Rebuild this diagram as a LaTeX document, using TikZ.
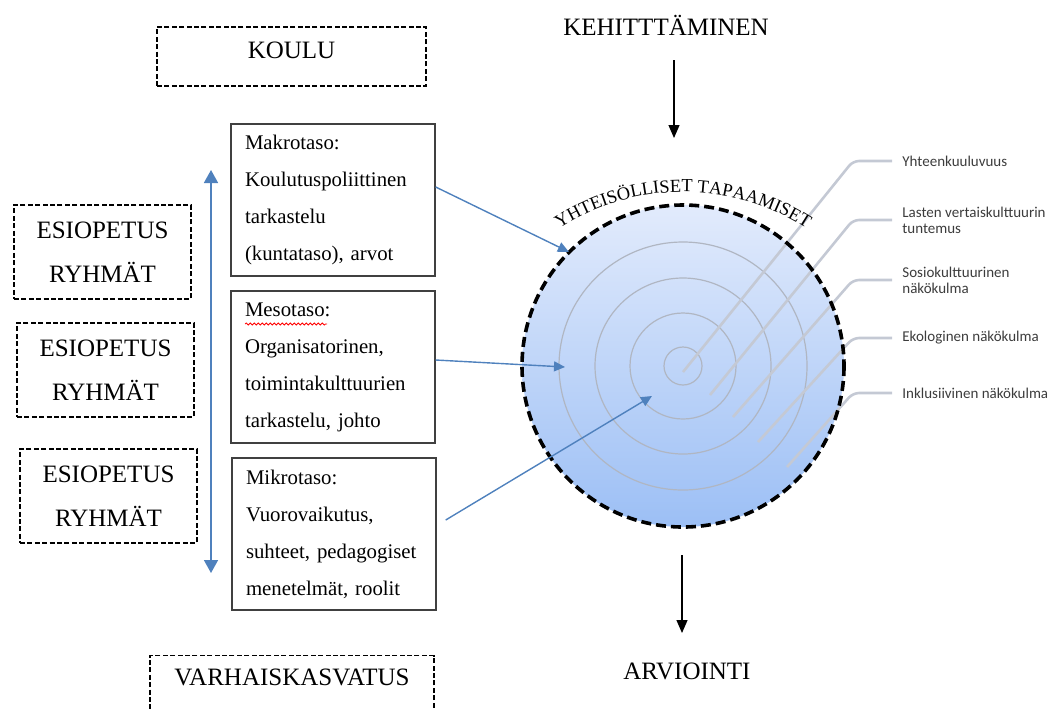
\documentclass[tikz,border=0pt]{standalone}
\usepackage{fontspec}
\setmainfont{Liberation Serif}
\newfontfamily\calibri{Carlito}
\usepackage{tikz}
\usetikzlibrary{arrows.meta, decorations.text, decorations.pathmorphing}

\definecolor{tasoblue}{RGB}{79,129,189}
\definecolor{ringgray}{RGB}{176,182,194}
\definecolor{calloutgray}{RGB}{196,201,212}
\definecolor{disctop}{RGB}{226,235,252}
\definecolor{discbottom}{RGB}{156,191,245}
\definecolor{labelgray}{RGB}{60,60,60}

\tikzset{
  dashbox/.style={draw, dash pattern=on 2.5pt off 1.2pt, line width=0.6pt, inner sep=0pt,
                  align=center, font=\fontsize{12.5}{22}\selectfont},
  tasobox/.style={draw=black!75, line width=0.7pt, minimum width=102pt, minimum height=76pt,
                  text width=88pt, inner xsep=7pt, inner ysep=3pt, align=left,
                  font=\fontsize{10.4}{18.5}\selectfont},
  otsikko/.style={inner sep=0pt, font=\fontsize{12.5}{15}\selectfont},
  selite/.style={anchor=west, inner sep=5pt, align=left, text=labelgray,
                 font=\calibri\fontsize{7.5}{8}\selectfont},
  callout/.style={calloutgray, line width=1.3pt, rounded corners=3pt},
  tasonuoli/.style={tasoblue, line width=0.7pt, -{Triangle[length=5.5pt, width=5pt]}},
  pystynuoli/.style={tasoblue, line width=0.8pt,
                     {Triangle[length=6.5pt, width=7pt]}-{Triangle[length=6.5pt, width=7pt]}},
  mustanuoli/.style={black, line width=0.6pt, -{Triangle[length=6.5pt, width=5.5pt]}}
}

\begin{document}
\begin{tikzpicture}[x=0.5pt, y=-0.5pt]
    \useasboundingbox (0,0) rectangle (1048,708);
    \def\cx{683}; \def\cy{366}; \def\rr{161}

    % vasen puoli
    \node[dashbox, minimum width=134.5pt, minimum height=29.5pt, text depth=6.5pt] (koulu) at (291.5,56.5) {KOULU};
    \foreach \ex/\ey/\nm in {102.5/252/esi1, 105.5/370/esi2, 108.5/496/esi3} {
        \node[dashbox, minimum width=88.5pt, minimum height=47pt] (\nm) at (\ex,\ey) {ESIOPETUS\\RYHMÄT};
    }
    \node[dashbox, anchor=north, minimum width=142pt, minimum height=32pt, text depth=10pt] (varhais) at (292,655) {VARHAISKASVATUS};

    \node[tasobox] (makro) at (333,200) {Makrotaso:\\Koulutuspoliittinen\\tarkastelu\\(kuntataso), arvot};
    \node[tasobox] (meso) at (333,367) {Mesotaso:\\Organisatorinen,\\toimintakulttuurien\\tarkastelu, johto};
    \node[tasobox] (mikro) at (334,534) {Mikrotaso:\\Vuorovaikutus,\\suhteet, pedagogiset\\menetelmät, roolit};
    \draw[red, line width=0.4pt, decorate, decoration={snake, amplitude=0.5pt, segment length=2pt}] (245,324) -- (327,324);

    \coordinate (tasoyla) at (211,170);
    \coordinate (tasoala) at (211,573);
    \draw[pystynuoli] (tasoyla) -- (tasoala);

    % kiekko
    \node[circle, minimum size=161pt, inner sep=0pt, top color=disctop, bottom color=discbottom] (kiekko) at (\cx,\cy) {};
    \foreach \r in {19, 53, 88, 124} {
        \draw[ringgray, line width=0.6pt] (kiekko.center) circle[radius=\r];
    }

    \foreach \ax/\ay/\ly/\teksti/\nm in {683/372/161/Yhteenkuuluvuus/yht,
            710/395/220/{Lasten vertaiskulttuurin\\tuntemus}/lasten,
            733/417/280/{Sosiokulttuurinen\\näkökulma}/sosio,
            758/442/338/{Ekologinen näkökulma}/eko,
            787/467/393/{Inklusiivinen näkökulma}/inkl} {
        \node[selite] (\nm) at (892,\ly) {\teksti};
        \coordinate (\nm-alku) at (\ax,\ay);
        \draw[callout] (\nm-alku) -- (853,\ly) -- (\nm.west);
    }

    \draw[line width=1.8pt, dash pattern=on 5pt off 2.5pt] (kiekko.center) circle[radius=\rr];
    \path[decorate, decoration={text along path, text align=center,
          text={|\fontsize{9.2}{10}\selectfont|YHTEISÖLLISET TAPAAMISET}}]
          (\cx,\cy+54) ++(-123:228) arc[start angle=-123, end angle=-57, radius=228];

    % nuolet kiekkoon
    \coordinate (mesokarki) at (565,367);
    \coordinate (mikrokarki) at (652,396);
    \draw[tasonuoli] ([yshift=6.5pt]makro.east) -- (kiekko.135);
    \draw[tasonuoli] ([yshift=3.5pt]meso.east) -- (mesokarki);
    \draw[tasonuoli] ([xshift=4.5pt, yshift=7pt]mikro.east) -- (mikrokarki);

    % ylä ja ala
    \node[otsikko] (kehit) at (666,25) {KEHITTTÄMINEN};
    \coordinate (kehitalku) at (674,60);
    \coordinate (kehitloppu) at (674,138);
    \draw[mustanuoli] (kehitalku) -- (kehitloppu);

    \node[otsikko] (arvio) at (687,671) {ARVIOINTI};
    \coordinate (arvioalku) at (682,555);
    \coordinate (arvioloppu) at (682,633);
    \draw[mustanuoli] (arvioalku) -- (arvioloppu);
\end{tikzpicture}
\end{document}
